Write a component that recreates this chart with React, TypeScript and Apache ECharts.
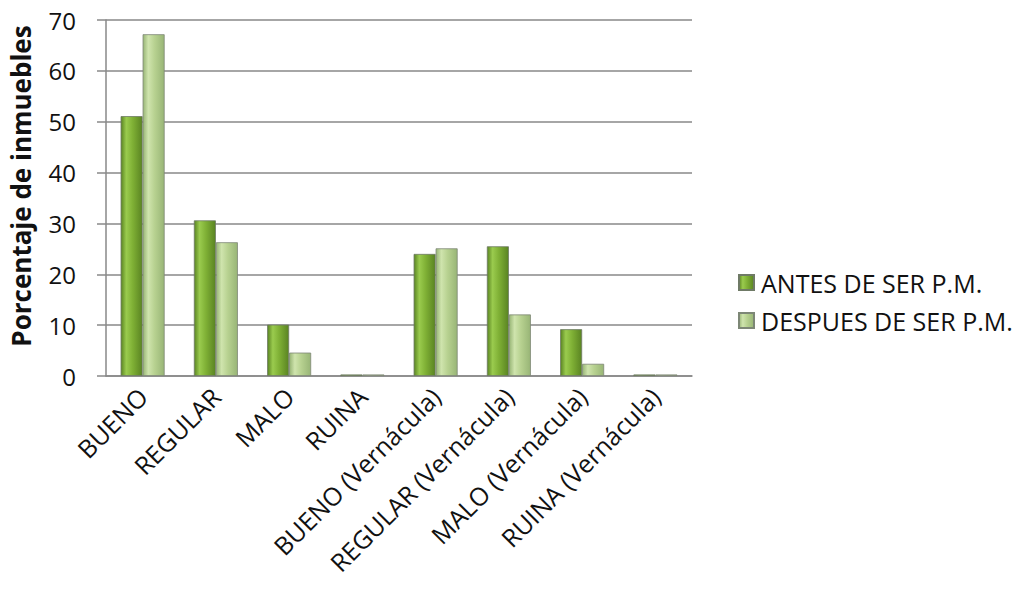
import React, { useEffect, useRef } from "react";
import * as echarts from "echarts";

const categories = [
  "BUENO",
  "REGULAR",
  "MALO",
  "RUINA",
  "BUENO (Vernácula)",
  "REGULAR (Vernácula)",
  "MALO (Vernácula)",
  "RUINA (Vernácula)",
];
const antes = [51.1, 30.6, 10.1, 0.3, 24.0, 25.5, 9.2, 0.3];
const despues = [67.2, 26.3, 4.6, 0.3, 25.1, 12.1, 2.4, 0.3];
const seriesNames = ["ANTES DE SER P.M.", "DESPUES DE SER P.M."];
const yTicks = { min: 0, max: 70, interval: 10 };

const FONT = "Open Sans";

function grad(edge: string, mid: string, hi: string) {
  return new echarts.graphic.LinearGradient(0, 0, 1, 0, [
    { offset: 0, color: edge },
    { offset: 0.25, color: hi },
    { offset: 0.55, color: mid },
    { offset: 1, color: edge },
  ]);
}

export default function App() {
  const ref = useRef<HTMLDivElement>(null);
  useEffect(() => {
    document.body.style.margin = "0";
    const chart = echarts.init(ref.current!, null, { renderer: "svg" });
    chart.setOption({
      animation: false,
      backgroundColor: "#ffffff",
      grid: { left: 104, right: 330, top: 20, bottom: 219 },
      legend: {
        orient: "vertical",
        left: 733,
        top: 265,
        itemWidth: 15,
        itemHeight: 15,
        itemGap: 13,
        icon: "rect",
        textStyle: { fontFamily: FONT, fontSize: 25, color: "#111", padding: [0, 0, 0, 2] },
        data: seriesNames,
      },
      xAxis: {
        type: "category",
        data: categories,
        axisLine: { show: true, lineStyle: { color: "#888", width: 1.5 } },
        axisTick: { show: false },
        axisLabel: {
          rotate: 45,
          interval: 0,
          margin: 16,
          fontFamily: FONT,
          fontSize: 25,
          color: "#111",
        },
      },
      yAxis: {
        type: "value",
        min: yTicks.min,
        max: yTicks.max,
        interval: yTicks.interval,
        name: "Porcentaje de inmuebles",
        nameLocation: "middle",
        nameGap: 72,
        nameTextStyle: {
          fontFamily: FONT,
          fontSize: 26,
          fontWeight: "bold",
          color: "#111",
          padding: [0, 0, 0, 24],
        },
        axisLine: { show: true, lineStyle: { color: "#888", width: 1.5 } },
        axisTick: { show: true, inside: false, length: 9, lineStyle: { color: "#888", width: 1.5 } },
        axisLabel: { margin: 30, fontFamily: FONT, fontSize: 24, color: "#111" },
        splitLine: { show: true, lineStyle: { color: "#888", width: 1.5 } },
      },
      series: [
        {
          name: seriesNames[0],
          type: "bar",
          data: antes,
          barWidth: 22,
          barGap: "0%",
          itemStyle: {
            color: grad("#5a8422", "#7fb035", "#9acb4e"),
            borderColor: "#6f7a66",
            borderWidth: 0.8,
          },
        },
        {
          name: seriesNames[1],
          type: "bar",
          data: despues,
          barWidth: 22,
          barGap: "0%",
          itemStyle: {
            color: grad("#98b576", "#b7d190", "#cfe4ad"),
            borderColor: "#7d8776",
            borderWidth: 0.8,
          },
        },
      ],
    });
    return () => chart.dispose();
  }, []);
  return <div ref={ref} style={{ width: 1022, height: 595 }} />;
}
